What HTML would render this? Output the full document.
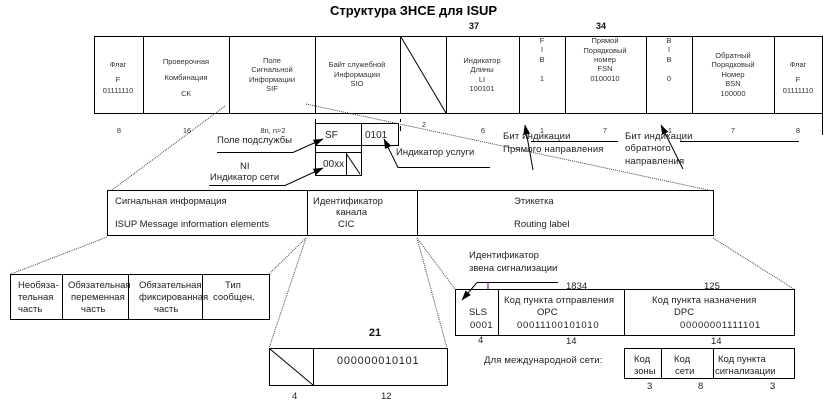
<!DOCTYPE html>
<html><head><meta charset="utf-8"><style>
html,body{margin:0;padding:0;background:#fff}
svg{display:block;font-family:"Liberation Sans",sans-serif;fill:#222}
.s{font-size:7.5px;text-anchor:middle;fill:#333}
.m{font-size:9.5px;fill:#222}
.l{stroke:#000;stroke-width:1;fill:none}
.d{stroke:#444;stroke-width:1;stroke-dasharray:1 1;fill:none}
.w{letter-spacing:.15px}
.n{letter-spacing:.7px}
</style></head><body>
<svg width="829" height="401" viewBox="0 0 829 401" xmlns="http://www.w3.org/2000/svg">
<defs><marker id="a" markerWidth="10" markerHeight="7" refX="9.5" refY="3.5" orient="auto" markerUnits="userSpaceOnUse"><path d="M0 0L10 3.5L0 7z" fill="#000"/></marker></defs>
<text x="330" y="15" style="font-size:13px;font-weight:bold;fill:#000">Структура ЗНСЕ для ISUP</text>
<text x="474" y="29" style="font-size:9px;font-weight:bold;text-anchor:middle;fill:#111">37</text>
<text x="601" y="29" style="font-size:9px;font-weight:bold;text-anchor:middle;fill:#111">34</text>

<g class="l">
<rect x="94.5" y="36.5" width="728" height="77"/>
<path d="M143.5 36.5V113.5M229.5 36.5V113.5M315.5 36.5V113.5M400.5 36.5V113.5M446.5 36.5V113.5M519.5 36.5V113.5M565.5 36.5V113.5M646.5 36.5V113.5M692.5 36.5V113.5M774.5 36.5V113.5"/>
<path d="M401 37L446 113"/>
<path d="M315.5 119V124M400.5 119V122M400.5 126V131M822.5 113V135"/>
<rect x="315.5" y="123.5" width="83" height="22"/>
<path d="M361.5 123.5V145.5"/>
<rect x="315.5" y="152.5" width="46" height="23"/>
<path d="M315.5 145.5V152.5M361.5 145.5V152.5M346.5 153V176M346.5 154L360 174"/>
<rect x="107.5" y="190.5" width="606" height="45"/>
<path d="M307.5 190.5V235.5M417.5 190.5V235.5"/>
<rect x="10.5" y="274.5" width="259" height="45"/>
<path d="M62.5 274.5V319.5M128.5 274.5V319.5M202.5 274.5V319.5"/>
<rect x="269.5" y="348.5" width="178" height="37"/>
<path d="M313.5 348.5V385.5M270 349L313 385"/>
<rect x="455.5" y="289.5" width="339" height="46"/>
<path d="M498.5 289.5V335.5M624.5 289.5V335.5"/>
<rect x="624.5" y="348.5" width="170" height="30"/>
<path d="M661.5 348.5V378.5M713.5 348.5V378.5"/>
<path d="M217 152.5H293L323 139" marker-end="url(#a)"/>
<path d="M209 185.5H285L323 168" marker-end="url(#a)"/>
<path d="M490 167.5H398L384 139" marker-end="url(#a)"/>
<path d="M533 170L525 125" marker-end="url(#a)"/>
<path d="M683 169L661 125" marker-end="url(#a)"/>
<path d="M531 141.5H618M680 141.5H799"/>
<path d="M558 282.5H477L462 300" marker-end="url(#a)"/>
<path d="M488 283V289" style="stroke:#606"/>
</g>
<g class="d">
<path d="M225 106L112 190M306 104L713 191"/>
<path d="M107 237L11 274M306 238L269 274M306 238L269 348M417 238L447 348M417 238L455 289M713 238L794 289"/>
</g>

<g class="s">
<text x="118" y="67">Флаг</text><text x="118" y="82">F</text><text x="118" y="93">01111110</text>
<text x="186" y="64">Проверочная</text><text x="186" y="80">Комбинация</text><text x="186" y="96">СК</text>
<text x="272" y="63">Поле</text><text x="272" y="72">Сигнальной</text><text x="272" y="82">Информации</text><text x="272" y="91">SIF</text>
<text x="357" y="67">Байт служебной</text><text x="357" y="77">Информации</text><text x="357" y="86">SIO</text>
<text x="482" y="63">Индикатор</text><text x="482" y="72">Длины</text><text x="482" y="82">LI</text><text x="482" y="91">100101</text>
<text x="542" y="43">F</text><text x="542" y="52">I</text><text x="542" y="62">B</text><text x="542" y="81">1</text>
<text x="605" y="43">Прямой</text><text x="605" y="53">Порядковый</text><text x="605" y="62">номер</text><text x="605" y="71">FSN</text><text x="605" y="81">0100010</text>
<text x="669" y="43">B</text><text x="669" y="52">I</text><text x="669" y="62">B</text><text x="669" y="81">0</text>
<text x="733" y="58">Обратный</text><text x="733" y="67">Порядковый</text><text x="733" y="77">Номер</text><text x="733" y="86">BSN</text><text x="733" y="96">100000</text>
<text x="798" y="67">Флаг</text><text x="798" y="82">F</text><text x="798" y="93">01111110</text>
<text x="119" y="133">8</text><text x="187" y="133">16</text><text x="273" y="133">8n, n&gt;2</text><text x="424" y="127">2</text><text x="483" y="133">6</text><text x="542" y="133">1</text><text x="605" y="133">7</text><text x="670" y="133">1</text><text x="733" y="133">7</text><text x="798" y="133">8</text>
</g>

<g class="m">
<text x="217" y="143">Поле подслужбы</text>
<text x="240" y="169">NI</text>
<text x="210" y="180">Индикатор сети</text>
<text x="325" y="138" style="font-size:10px">SF</text>
<text x="365" y="138" style="font-size:10px">0101</text>
<text x="323" y="167" style="font-size:10px">00xx</text>
<text x="396" y="155">Индикатор услуги</text>
<text x="503" y="139" class="w">Бит индикации</text>
<text x="503" y="152" class="w">Прямого направления</text>
<text x="625" y="139" class="w">Бит индикации</text>
<text x="625" y="151" class="w">обратного</text>
<text x="625" y="164" class="w">направления</text>

<text x="115" y="204">Сигнальная информация</text>
<text x="115" y="227">ISUP Message information elements</text>
<text x="313" y="204">Идентификатор</text>
<text x="336" y="215">канала</text>
<text x="338" y="227">CIC</text>
<text x="514" y="204">Этикетка</text>
<text x="514" y="227">Routing label</text>

<text x="18" y="288">Необяза-</text><text x="18" y="300">тельная</text><text x="18" y="312">часть</text>
<text x="68" y="288">Обязательная</text><text x="71" y="300">переменная</text><text x="81" y="312">часть</text>
<text x="139" y="288">Обязательная</text><text x="139" y="300">фиксированная</text><text x="154" y="312">часть</text>
<text x="225" y="288">Тип</text><text x="213" y="300">сообщен.</text>

<text x="469" y="258">Идентификатор</text>
<text x="469" y="271">звена сигнализации</text>
<text x="566" y="289">1834</text>
<text x="704" y="289">125</text>
<text x="469" y="315">SLS</text>
<text x="470" y="328" style="letter-spacing:.5px">0001</text>
<text x="504" y="303" class="w">Код пункта отправления</text>
<text x="537" y="315">OPC</text>
<text x="517" y="328" class="n">00011100101010</text>
<text x="652" y="303" class="w">Код пункта назначения</text>
<text x="674" y="315">DPC</text>
<text x="680" y="328" class="n">00000001111101</text>
<text x="478" y="343">4</text><text x="566" y="344">14</text><text x="711" y="344">14</text>
<text x="484" y="363" class="w">Для международной сети:</text>
<text x="634" y="362">Код</text><text x="634" y="374">зоны</text>
<text x="674" y="362">Код</text><text x="675" y="374">сети</text>
<text x="718" y="362">Код пункта</text><text x="715" y="374">сигнализации</text>
<text x="647" y="389">3</text><text x="698" y="389">8</text><text x="770" y="389">3</text>
<text x="292" y="399">4</text><text x="381" y="399">12</text>
<text x="337" y="364" style="font-size:11px;letter-spacing:.75px">000000010101</text>
</g>
<text x="375" y="336" style="font-size:11px;font-weight:bold;text-anchor:middle;fill:#111">21</text>
</svg>
</body></html>
